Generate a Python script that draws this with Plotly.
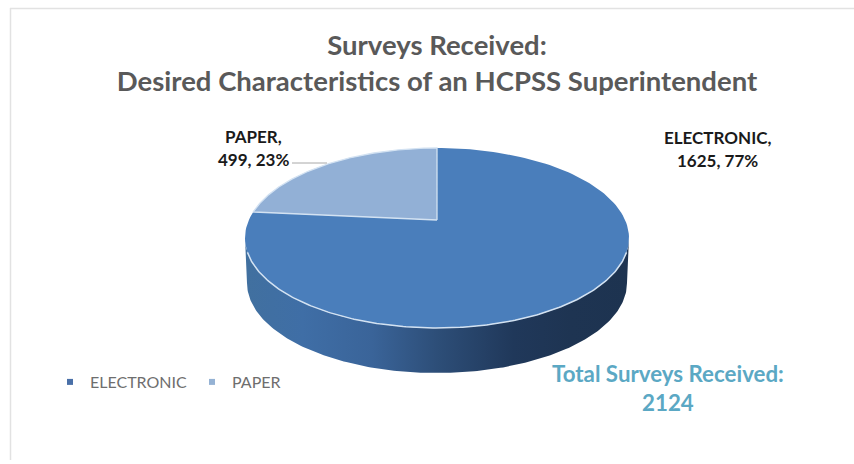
import numpy as np
import plotly.graph_objects as go

# ---- data ----
categories = ["ELECTRONIC", "PAPER"]
values = [1625, 499]
percents = ["77%", "23%"]
total_label = "2124"
title_lines = ["Surveys Received:", "Desired Characteristics of an HCPSS Superintendent"]

# ---- tilted-disc geometry (pixel space) ----
CX, CY, RX, RY = 437.0, 238.0, 192.0, 90.0
TILT = 0.2      # perspective shift of the disc centre
DEPTH = 45.0
RX_BOTTOM = 190.0
TOP_BLUE = "#4a7ebb"
PAPER_BLUE = "#92b0d6"
RIM = "#d3e2f2"
FONT = "Lato"


def project(theta):
    """Clockwise angle from 12 o'clock on a flat disc -> screen point on the tilted disc."""
    sx, sy = np.sin(theta), np.cos(theta)
    d = 1 + TILT * sy
    x = sx * np.sqrt(1 - TILT ** 2) / d
    y = (sy + TILT) / d
    return CX + RX * x, CY - RY * y


def apex():
    return CX, CY - RY * TILT


def wedge(start, stop):
    t = np.linspace(start, stop, 160)
    x, y = project(t)
    ax, ay = apex()
    return np.r_[ax, x, ax], np.r_[ay, y, ay]


share = np.array(values) / sum(values)
paper_start = 2 * np.pi * (1 - share[1])

fig = go.Figure()

# side wall
a = np.linspace(-np.pi / 2, np.pi / 2, 200)          # left extreme -> right extreme through the front
top_x = CX + RX * np.sin(a)
top_y = CY + RY * np.cos(a)
bot_x = CX + RX_BOTTOM * np.sin(a[::-1])
bot_y = CY + DEPTH + RY * np.cos(a[::-1])
fig.add_trace(go.Scatter(
    x=np.r_[top_x, bot_x], y=np.r_[top_y, bot_y], mode="lines", fill="toself",
    line=dict(width=0), showlegend=False, hoverinfo="skip",
    fillgradient=dict(type="horizontal", colorscale=[
        [0.0, "#41709f"], [0.15, "#3f6ea6"], [0.33, "#3a6499"], [0.5, "#2d4e78"],
        [0.7, "#20385a"], [0.85, "#1e3452"], [1.0, "#1d3350"]]),
))

# electronic slice
ex, ey = wedge(0, paper_start)
fig.add_trace(go.Scatter(x=ex, y=ey, mode="lines", fill="toself", fillcolor=TOP_BLUE,
                         line=dict(width=0), showlegend=False, name=categories[0],
                         hovertemplate=f"{categories[0]}: {values[0]}<extra></extra>"))
# paper slice
px_, py_ = wedge(paper_start, 2 * np.pi)
fig.add_trace(go.Scatter(x=px_, y=py_, mode="lines", fill="toself", fillcolor=PAPER_BLUE,
                         line=dict(width=1.3, color=RIM), showlegend=False, name=categories[1],
                         hovertemplate=f"{categories[1]}: {values[1]}<extra></extra>"))
# bright rim along the front of the disc
b = np.linspace(-np.pi / 2 + 0.16, np.pi / 2 - 0.16, 200)
fig.add_trace(go.Scatter(x=CX + RX * np.sin(b), y=CY + RY * np.cos(b), mode="lines",
                         line=dict(width=1.5, color=RIM), showlegend=False, hoverinfo="skip"))

# legend entries
fig.add_trace(go.Scatter(x=[None], y=[None], mode="markers", name=categories[0],
                         marker=dict(symbol="square", size=6, color="#4a70a8")))
fig.add_trace(go.Scatter(x=[None], y=[None], mode="markers", name=categories[1],
                         marker=dict(symbol="square", size=6, color="#95b2d4")))


def note(text, x, y, size, color):
    fig.add_annotation(x=x, y=y, xref="x", yref="y", text=f"<b>{text}</b>",
                       showarrow=False, align="center", xanchor="center", yanchor="middle",
                       font=dict(family=FONT, size=size, color=color))


note(f"{categories[1]},", 253, 136, 17, "#1a1a1a")
note(f"{values[1]}, {percents[1]}", 253, 159, 17, "#1a1a1a")
note(f"{categories[0]},", 717, 137, 17, "#1a1a1a")
note(f"{values[0]}, {percents[0]}", 717, 160, 17, "#1a1a1a")
note(f"Total Surveys Received:<br>{total_label}", 668, 388, 22.3, "#5ba8c4")

fig.update_layout(
    width=854, height=464, margin=dict(l=0, r=0, t=0, b=0),
    paper_bgcolor="white", plot_bgcolor="white",
    title=dict(text="<b>" + "<br>".join(title_lines) + "</b>", x=437 / 854, xanchor="center",
               y=1 - 55 / 464, yanchor="top", yref="container",
               font=dict(family=FONT, size=27.5, color="#595959")),
    xaxis=dict(range=[0, 854], visible=False, fixedrange=True),
    yaxis=dict(range=[464, 0], visible=False, fixedrange=True),
    legend=dict(orientation="h", x=50 / 854, y=1 - 382 / 464, xanchor="left", yanchor="middle",
                font=dict(family=FONT, size=16, color="#6e6e6e"), bgcolor="rgba(0,0,0,0)",
                itemwidth=30, tracegroupgap=0),
    shapes=[
        dict(type="line", xref="x", yref="y", x0=10, x1=854, y0=8.5, y1=8.5,
             line=dict(color="#e2e2e2", width=1.5)),
        dict(type="line", xref="x", yref="y", x0=10.5, x1=10.5, y0=8, y1=460,
             line=dict(color="#e2e2e2", width=1.5)),
        dict(type="line", xref="x", yref="y", x0=292, x1=327, y0=163, y1=163,
             line=dict(color="#a8a8a8", width=1)),
    ],
)

fig.write_html("out.html", config=dict(displayModeBar=False),
               post_script="document.body.style.margin='0';document.documentElement.style.overflow='hidden';")
